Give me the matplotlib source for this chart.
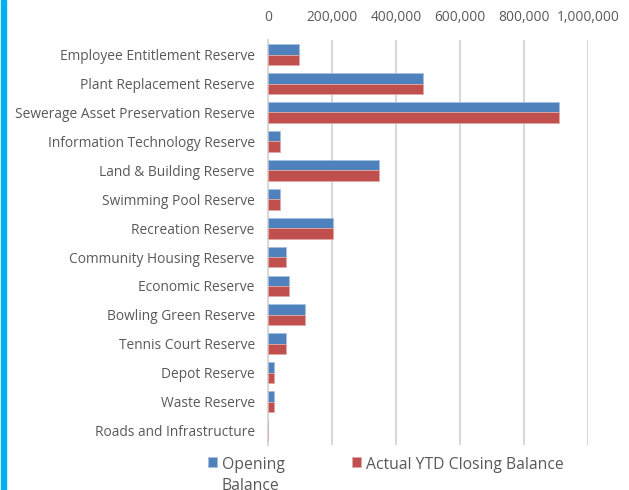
import matplotlib
matplotlib.use("Agg")
import matplotlib.pyplot as plt
import numpy as np

# Reserve balances
categories = [
    "Employee Entitlement Reserve",
    "Plant Replacement Reserve",
    "Sewerage Asset Preservation Reserve",
    "Information Technology Reserve",
    "Land & Building Reserve",
    "Swimming Pool Reserve",
    "Recreation Reserve",
    "Community Housing Reserve",
    "Economic Reserve",
    "Bowling Green Reserve",
    "Tennis Court Reserve",
    "Depot Reserve",
    "Waste Reserve",
    "Roads and Infrastructure",
]
opening_balance = [96000, 484000, 909000, 38000, 347000, 38000, 203000,
                   57000, 66000, 116000, 57000, 19000, 19000, 0]
closing_balance = [96000, 484000, 909000, 38000, 347000, 38000, 203000,
                   57000, 66000, 116000, 57000, 19000, 19000, 0]
x_ticks = [0, 200000, 400000, 600000, 800000, 1000000]

BLUE = "#4F81BD"
RED = "#C0504D"
TEXT = "#595959"

plt.rcParams["font.family"] = ["Open Sans", "DejaVu Sans"]

fig = plt.figure(figsize=(6.29, 4.9), dpi=100)
ax = fig.add_axes([0.426, 0.092, 0.509, 0.826])

y = np.arange(len(categories))
h = 0.36
ax.barh(y - h / 2, opening_balance, height=h, color=BLUE, edgecolor="#A7C0DE",
        linewidth=0.6, label="Opening\nBalance", zorder=3)
ax.barh(y + h / 2, closing_balance, height=h, color=RED, edgecolor="#E0A8A6",
        linewidth=0.6, label="Actual YTD Closing Balance", zorder=3)

ax.set_ylim(len(categories) - 0.5, -0.5)
ax.set_xlim(0, 1000000)
ax.set_yticks(y)
ax.set_yticklabels(categories, fontsize=9.9, color=TEXT)
ax.set_xticks(x_ticks)
ax.set_xticklabels([f"{v:,}" for v in x_ticks], fontsize=9.9, color=TEXT)
ax.xaxis.tick_top()
ax.tick_params(axis="y", length=0, pad=9.5)
ax.tick_params(axis="x", length=0, pad=11)
ax.grid(axis="x", color="#D9D9D9", linewidth=1.5, zorder=0)
for side in ["top", "right", "bottom"]:
    ax.spines[side].set_visible(False)
ax.spines["left"].set_color("#D9D9D9")
ax.spines["left"].set_linewidth(1.5)

leg = fig.legend(loc="upper left", bbox_to_anchor=(0.32, 0.08), ncol=2,
                 frameon=False, fontsize=11.3, handlelength=0.6, handleheight=0.6,
                 handletextpad=0.3, columnspacing=4.3, labelcolor=TEXT,
                 borderaxespad=0)
leg.get_texts()[0].set_linespacing(1.45)
# top-align entries, as the reference legend does
leg._legend_handle_box.align = "top"
for col in leg._legend_handle_box.get_children():
    col.align = "top"
    for item in col.get_children():
        item.align = "top"

# cyan strip on the left edge
fig.patches.append(plt.Rectangle((0.0016, 0), 0.008, 1, transform=fig.transFigure,
                                 color="#00B0F0", zorder=10))

fig.savefig("out.png", dpi=100)
